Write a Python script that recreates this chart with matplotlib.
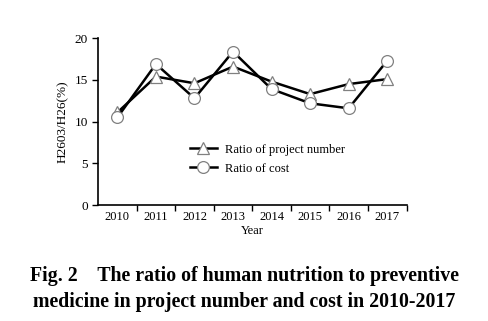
import numpy as np
import matplotlib.pyplot as plt
from matplotlib.ticker import FixedLocator

years = [2010, 2011, 2012, 2013, 2014, 2015, 2016, 2017]
ratio_number = [11.1, 15.4, 14.6, 16.6, 14.8, 13.3, 14.5, 15.1]
ratio_cost = [10.5, 16.9, 12.8, 18.4, 13.9, 12.2, 11.6, 17.3]

plt.rcParams['font.family'] = ['Liberation Serif', 'DejaVu Serif']

fig = plt.figure(figsize=(4.88, 3.21), dpi=100)
ax = fig.add_axes([0.201, 0.361, 0.632, 0.520])

ax.plot(years, ratio_number, color='black', lw=1.8, marker='^', ms=8.5,
        mfc='white', mec='#808080', mew=0.9, label='Ratio of project number')
ax.plot(years, ratio_cost, color='black', lw=1.8, marker='o', ms=8.5,
        mfc='white', mec='#808080', mew=0.9, label='Ratio of cost')

ax.set_xlim(2009.5, 2017.5)
ax.set_ylim(0, 20)
ax.set_yticks([0, 5, 10, 15, 20])
ax.xaxis.set_major_locator(FixedLocator(np.arange(2010.5, 2018, 1)))
ax.xaxis.set_minor_locator(FixedLocator(years))
ax.set_xticklabels([])
ax.set_xticklabels([str(y) for y in years], minor=True)
ax.tick_params(axis='x', which='major', length=4, width=1, direction='out')
ax.tick_params(axis='x', which='minor', length=0, pad=4, labelsize=9)
ax.tick_params(axis='y', length=4, width=1, labelsize=9.5)

ax.spines['top'].set_visible(False)
ax.spines['right'].set_visible(False)
ax.spines['left'].set_linewidth(1.2)
ax.spines['bottom'].set_linewidth(1.2)

ax.set_xlabel('Year', fontsize=9, labelpad=2)
ax.set_ylabel('H2603/H26(%)', fontsize=9.5, labelpad=4)

ax.legend(loc='upper left', bbox_to_anchor=(0.26, 0.435), frameon=False,
          fontsize=9, handlelength=2.2, handletextpad=0.6, labelspacing=0.55)

fig.text(0.5, 0.125, 'Fig. 2    The ratio of human nutrition to preventive',
         ha='center', fontsize=14.3, fontweight='bold')
fig.text(0.5, 0.045, 'medicine in project number and cost in 2010-2017',
         ha='center', fontsize=14.3, fontweight='bold')

fig.savefig('out.png', dpi=100)
